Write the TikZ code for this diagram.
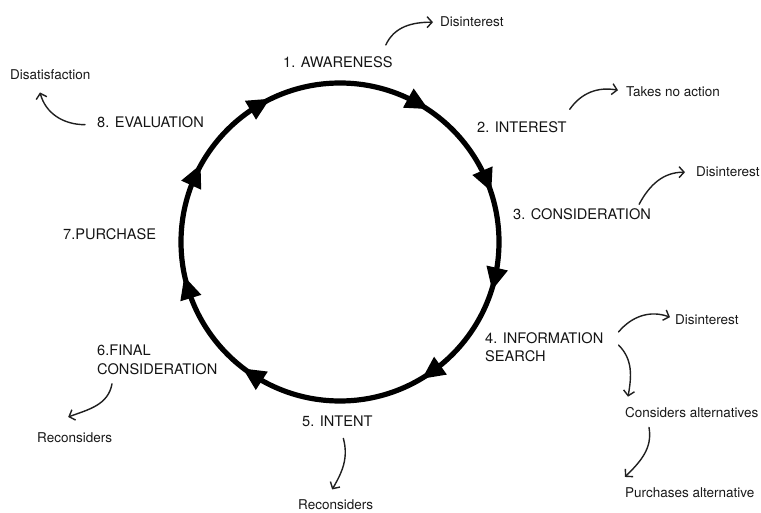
\documentclass[tikz,border=0pt]{standalone}
\usepackage{fontspec}
\setmainfont{TeX Gyre Heros}
\usetikzlibrary{arrows.meta}
\begin{document}
\begin{tikzpicture}[x=1pt,y=1pt,
  stage/.style={inner sep=0pt, font=\fontsize{14.6}{18.5}\selectfont, text=black!92, anchor=base west},
  outcome/.style={inner sep=0pt, font=\fontsize{13.5}{16}\selectfont, text=black!90, anchor=base west},
  flow/.style={draw=black!88, line width=1.4pt, line cap=round, line join=round,
    -{Straight Barb[length=5pt,width=11pt,line width=1.4pt]}},
  cyclering/.style={line width=5.2pt, draw=black},
  headfill/.style={fill=black}]
\useasboundingbox (0,0) rectangle (761,512);

% the purchase cycle
\coordinate (c) at (340,270);
\draw[cyclering] (c) circle[radius=159pt];
\foreach \a in {120.6,155.5,197,237,305.5,347,23,61}{
  \fill[headfill, shift={(c)}, shift={(\a:159)}, rotate=\a]
    (0,-12.5) -- (11,10) -- (-11,10) -- cycle;
}

% stages
\node[stage] (aw) at (283,444) {1. AWARENESS};
\node[stage] (in) at (477,379) {2. INTEREST};
\node[stage] (co) at (513,292) {3. CONSIDERATION};
\node[stage, anchor=north west, align=left] (is) at (485,180) {4. INFORMATION\\SEARCH};
\node[stage] (it) at (302,85) {5. INTENT};
\node[stage, anchor=north west, align=left] (fc) at (97,167) {6.FINAL\\CONSIDERATION};
\node[stage] (pu) at (63,272) {7.PURCHASE};
\node[stage] (ev) at (97,384) {8. EVALUATION};

% outcomes
\node[outcome] (d1) at (440,485) {Disinterest};
\node[outcome] (tn) at (626,415) {Takes no action};
\node[outcome] (d3) at (696,335) {Disinterest};
\node[outcome] (d4) at (675,187) {Disinterest};
\node[outcome] (ca) at (625,94) {Considers alternatives};
\node[outcome] (pa) at (625,15) {Purchases alternative};
\node[outcome] (r5) at (298,2.5) {Reconsiders};
\node[outcome] (r6) at (37,70) {Reconsiders};
\node[outcome] (ds) at (10,432) {Disatisfaction};

% exits from the cycle
\draw[flow] ([shift={(-7,12)}]aw.north east) to[out=65,in=180] ([shift={(-7,0)}]d1.west);
\draw[flow] ([shift={(3,12.6)}]in.north east) to[out=55,in=170] ([shift={(-8,2)}]tn.west);
\draw[flow] ([shift={(-12,4.6)}]co.north east) to[out=62,in=180] ([shift={(-11,0)}]d3.west);
\draw[flow] ([shift={(15,0)}]is.north east) to[out=50,in=160] ([shift={(-5,3)}]d4.west);
\draw[flow] ([shift={(15,-13)}]is.north east) to[out=-45,in=80] ([shift={(3,11)}]ca.north west);
\draw[flow] ([shift={(24,-9)}]ca.south west) to[out=-80,in=45] ([shift={(0,10)}]pa.north west);
\draw[flow] ([shift={(6,-11)}]it.south) to[out=-75,in=60] ([shift={(-3.5,10)}]r5.north);
\draw[flow] ([shift={(15,-9)}]fc.south west) to[out=-100,in=20] ([shift={(-6.5,15)}]r6.north);
\draw[flow] ([shift={(-12,-2)}]ev.west) to[out=180,in=-75] ([shift={(30,-12)}]ds.south west);
\end{tikzpicture}
\end{document}
